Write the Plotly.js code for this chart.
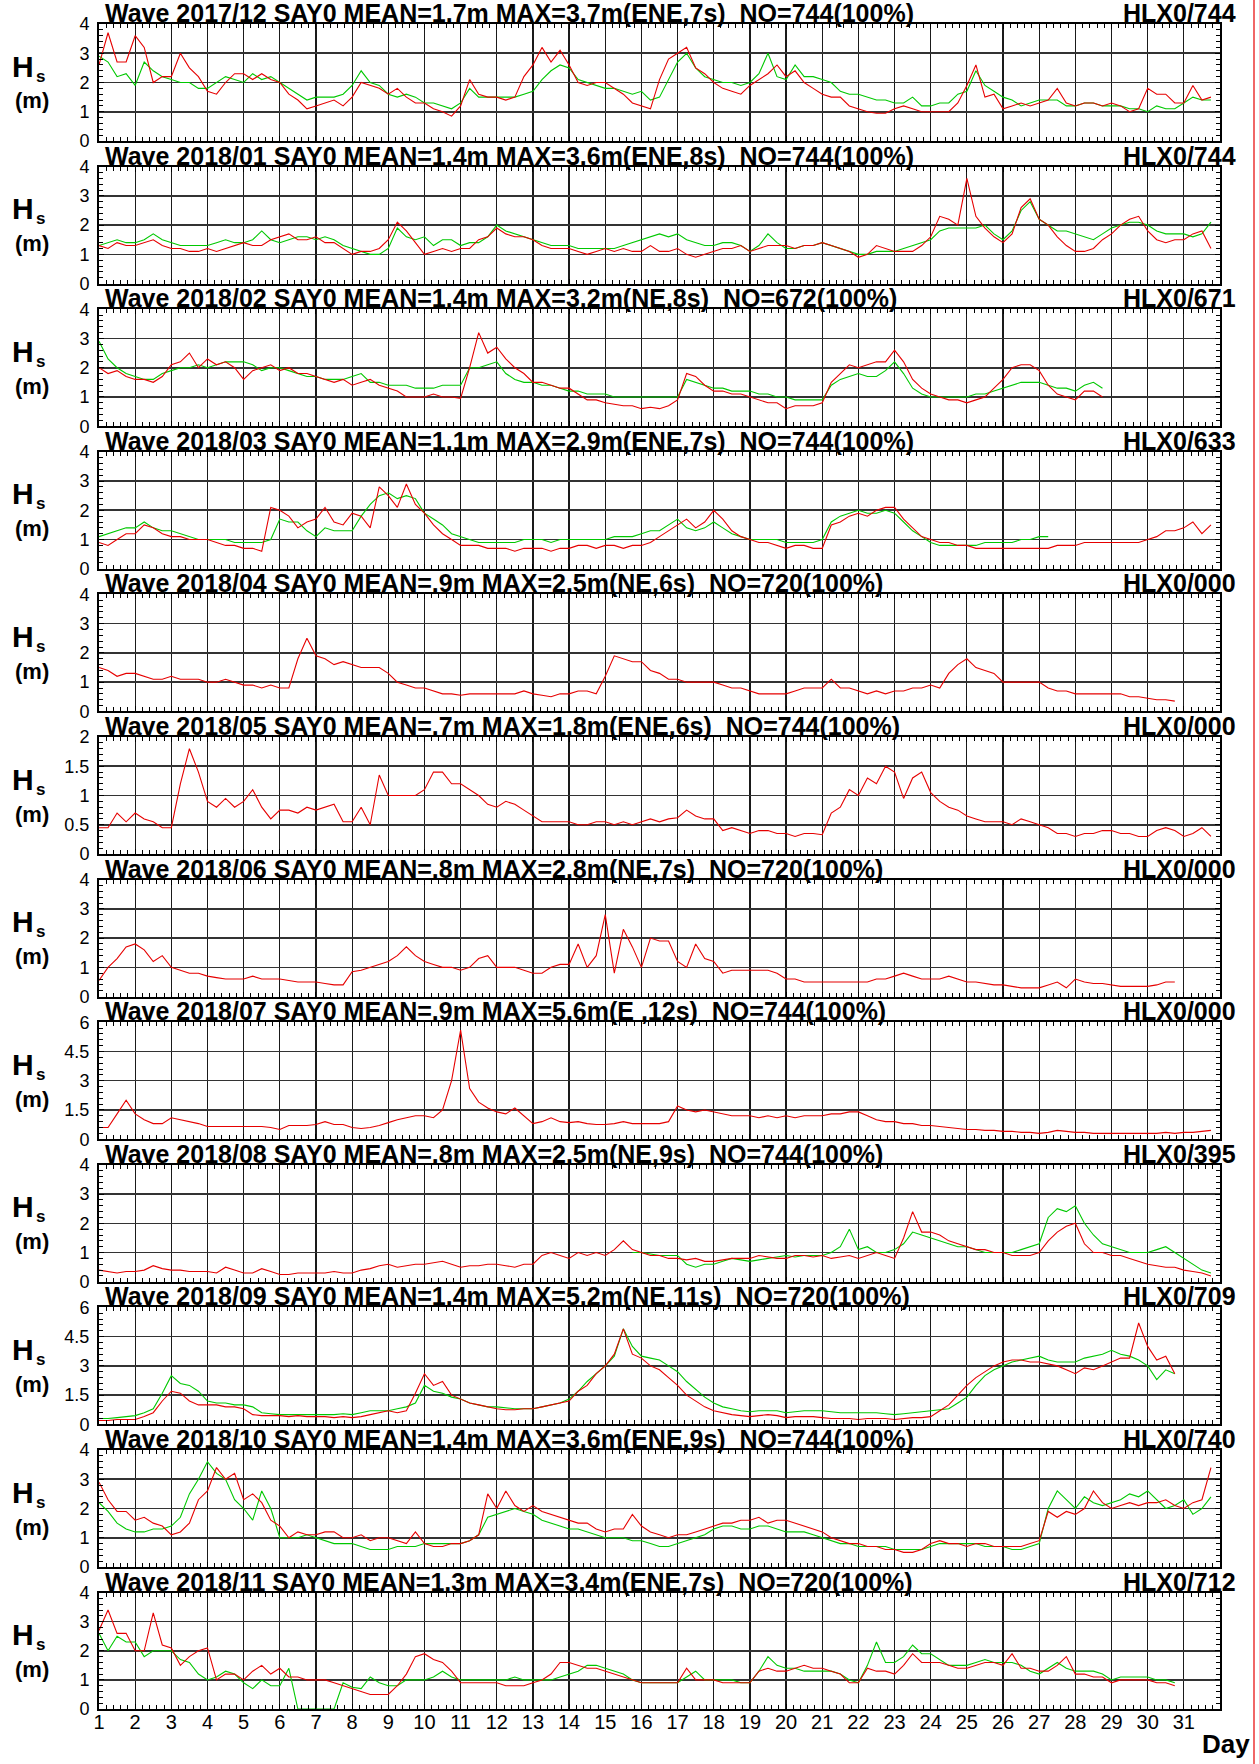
<!DOCTYPE html>
<html><head><meta charset="utf-8">
<script src="https://cdn.plot.ly/plotly-3.0.1.min.js"></script>
<style>html,body{margin:0;padding:0;background:#fff;}#chart{width:1259px;height:1764px;}</style>
</head><body><div id="chart"></div>
<script>
const days = [1,2,3,4,5,6,7,8,9,10,11,12,13,14,15,16,17,18,19,20,21,22,23,24,25,26,27,28,29,30,31];

const dec2017Red = [2.6,3.7,2.7,2.7, 3.6,3.2,2.0,2.2, 2.2,3.0,2.5,2.2, 1.7,1.6,2.0,2.3, 2.3,2.1,2.3,2.1,
 2.0,1.6,1.4,1.1, 1.2,1.3,1.4,1.2, 1.5,2.0,1.9,1.8, 1.6,1.8,1.5,1.3, 1.3,1.1,1.0,0.85,
 1.2,2.1,1.6,1.5, 1.5,1.4,1.5,2.2, 2.6,3.2,2.7,3.1, 2.6,2.0,1.9,2.0, 2.0,1.8,1.6,1.3,
 1.2,1.1,2.1,2.8, 3.0,3.2,2.5,2.3, 2.0,1.8,1.7,1.6, 1.9,2.1,2.3,2.6, 2.2,2.4,2.0,1.8,
 1.6,1.5,1.5,1.2, 1.1,1.0,0.95,0.95, 1.1,1.2,1.1,1.0, 1.0,1.0,1.0,1.3, 1.9,2.6,1.5,1.6,
 1.1,1.2,1.3,1.2, 1.3,1.4,1.8,1.3, 1.2,1.3,1.3,1.2, 1.3,1.2,1.0,1.1, 1.8,1.6,1.6,1.3,
 1.3,1.9,1.4,1.5];
const dec2017Green = [2.9,2.7,2.2,2.3, 1.9,2.7,2.4,2.2, 2.1,2.0,2.0,1.8, 1.8,2.0,2.2,2.1, 2.0,2.3,2.1,2.2,
 2.0,1.8,1.6,1.4, 1.5,1.5,1.5,1.6, 1.9,2.4,2.0,1.9, 1.6,1.5,1.6,1.5, 1.3,1.3,1.2,1.1,
 1.3,1.8,1.5,1.5, 1.5,1.5,1.5,1.6, 1.7,2.1,2.4,2.6, 2.5,2.1,2.0,1.9, 1.8,1.8,1.7,1.6,
 1.7,1.4,1.5,2.1, 2.7,3.0,2.5,2.2, 2.1,2.0,2.0,1.9, 2.0,2.3,3.0,2.2, 2.1,2.6,2.2,2.2,
 2.1,2.0,1.7,1.6, 1.6,1.5,1.4,1.4, 1.3,1.3,1.5,1.2, 1.2,1.3,1.3,1.6, 1.7,2.4,1.9,1.7,
 1.5,1.4,1.2,1.3, 1.4,1.4,1.4,1.2, 1.2,1.3,1.3,1.2, 1.2,1.2,1.1,1.1, 1.0,1.2,1.1,1.1,
 1.3,1.5,1.4,1.4];

const jan2018Red = [1.3,1.2,1.4,1.3, 1.3,1.4,1.5,1.3, 1.2,1.2,1.1,1.1, 1.2,1.1,1.2,1.3, 1.4,1.3,1.3,1.5,
 1.6,1.7,1.5,1.5, 1.6,1.4,1.4,1.2, 1.0,1.1,1.1,1.2, 1.5,2.1,1.8,1.4, 1.0,1.1,1.2,1.1,
 1.2,1.2,1.5,1.6, 1.9,1.7,1.6,1.6, 1.5,1.3,1.2,1.2, 1.2,1.1,1.0,1.1, 1.2,1.1,1.2,1.1,
 1.1,1.3,1.1,1.1, 1.2,1.0,0.9,1.0, 1.1,1.2,1.2,1.3, 1.1,1.2,1.3,1.3, 1.3,1.2,1.3,1.3,
 1.4,1.3,1.2,1.1, 0.9,1.0,1.3,1.2, 1.1,1.1,1.1,1.3, 1.6,2.3,2.2,2.0, 3.6,2.3,1.9,1.6,
 1.4,1.7,2.6,2.9, 2.2,2.0,1.6,1.3, 1.1,1.1,1.2,1.5, 1.7,2.0,2.2,2.3, 1.8,1.5,1.4,1.5,
 1.5,1.7,1.8,1.2];
const jan2018Green = [1.3,1.4,1.5,1.4, 1.4,1.5,1.7,1.5, 1.4,1.3,1.3,1.3, 1.3,1.4,1.5,1.4, 1.4,1.5,1.8,1.5,
 1.4,1.5,1.6,1.6, 1.5,1.6,1.5,1.3, 1.2,1.1,1.0,1.0, 1.2,1.9,1.6,1.5, 1.6,1.3,1.5,1.5,
 1.3,1.4,1.4,1.6, 2.0,1.8,1.7,1.6, 1.5,1.4,1.3,1.3, 1.3,1.2,1.2,1.2, 1.2,1.2,1.3,1.4,
 1.5,1.6,1.7,1.6, 1.7,1.5,1.4,1.3, 1.3,1.4,1.4,1.3, 1.1,1.3,1.7,1.4, 1.2,1.2,1.3,1.3,
 1.4,1.3,1.2,1.1, 1.0,1.0,1.1,1.1, 1.1,1.2,1.3,1.4, 1.5,1.8,1.9,1.9, 1.9,1.9,2.0,1.7,
 1.5,1.8,2.5,2.8, 2.2,2.0,1.8,1.8, 1.7,1.6,1.5,1.7, 1.9,2.0,2.1,2.1, 2.0,1.8,1.7,1.7,
 1.7,1.6,1.7,2.1];

const feb2018Red = [2.0,1.8,1.9,1.7, 1.6,1.6,1.5,1.7, 2.1,2.2,2.5,2.0, 2.3,2.1,2.2,2.0, 1.6,1.9,2.0,2.1,
 1.9,2.0,1.8,1.8, 1.7,1.6,1.5,1.6, 1.4,1.5,1.6,1.4, 1.3,1.2,1.0,1.0, 1.0,1.1,1.0,1.0,
 0.95,2.0,3.2,2.5, 2.7,2.3,2.0,1.8, 1.5,1.5,1.4,1.3, 1.3,1.1,0.9,0.9, 0.8,0.75,0.7,0.7,
 0.6,0.65,0.6,0.7, 0.9,1.8,1.7,1.4, 1.2,1.2,1.1,1.1, 1.0,0.9,0.8,0.8, 0.6,0.7,0.7,0.7,
 0.8,1.5,1.8,2.1, 2.0,2.1,2.2,2.2, 2.6,2.2,1.6,1.3, 1.1,1.0,0.9,0.9, 0.8,0.9,1.0,1.3,
 1.6,2.0,2.1,2.1, 1.9,1.4,1.1,1.0, 0.9,1.2,1.2,1.0];
const feb2018Green = [2.9,2.3,2.0,1.8, 1.7,1.6,1.6,1.8, 1.9,2.0,2.0,2.1, 2.0,2.1,2.2,2.2, 2.2,2.1,1.9,2.0,
 2.0,1.9,1.8,1.7, 1.7,1.6,1.6,1.6, 1.7,1.8,1.5,1.5, 1.4,1.4,1.4,1.3, 1.3,1.3,1.4,1.4,
 1.4,2.0,2.0,2.1, 2.2,1.8,1.6,1.5, 1.5,1.4,1.4,1.3, 1.2,1.2,1.1,1.1, 1.1,1.0,1.0,1.0,
 1.0,1.0,1.0,1.0, 1.0,1.6,1.5,1.4, 1.3,1.3,1.2,1.2, 1.2,1.1,1.1,1.0, 1.0,0.9,0.9,0.9,
 0.9,1.4,1.6,1.7, 1.8,1.7,1.7,1.9, 2.2,1.8,1.3,1.1, 1.0,1.0,1.0,1.0, 1.0,1.1,1.1,1.2,
 1.3,1.4,1.5,1.5, 1.5,1.4,1.3,1.3, 1.2,1.4,1.5,1.3];

const mar2018Red = [0.9,0.8,1.0,1.2, 1.2,1.5,1.4,1.2, 1.1,1.1,1.0,1.0, 1.0,0.9,0.8,0.8, 0.7,0.7,0.6,2.1,
 2.0,1.8,1.4,1.6, 1.7,2.1,1.6,1.5, 1.9,1.8,1.4,2.8, 2.5,2.1,2.9,2.2, 1.9,1.5,1.2,1.0,
 0.8,0.8,0.8,0.7, 0.7,0.7,0.6,0.7, 0.7,0.7,0.6,0.7, 0.7,0.8,0.8,0.7, 0.8,0.8,0.7,0.8,
 0.8,0.9,1.1,1.3, 1.5,1.7,1.4,1.6, 2.0,1.7,1.3,1.1, 1.0,0.9,0.9,0.8, 0.7,0.8,0.8,0.7,
 0.7,1.5,1.6,1.8, 1.9,1.8,2.0,2.1, 2.1,1.7,1.4,1.1, 1.0,0.9,0.9,0.8, 0.8,0.7,0.7,0.7,
 0.7,0.7,0.7,0.7, 0.7,0.7,0.8,0.8, 0.8,0.9,0.9,0.9, 0.9,0.9,0.9,0.9, 1.0,1.1,1.3,1.3,
 1.4,1.6,1.2,1.5];
const mar2018Green = [1.1,1.2,1.3,1.4, 1.4,1.6,1.4,1.3, 1.3,1.2,1.1,1.0, 1.0,1.0,1.0,0.9, 0.9,0.9,0.9,1.0,
 1.7,1.6,1.6,1.3, 1.1,1.4,1.3,1.3, 1.3,1.8,2.2,2.5, 2.6,2.4,2.5,2.4, 1.9,1.7,1.5,1.2,
 1.1,1.0,0.9,0.9, 0.9,0.9,0.9,1.0, 1.0,1.0,0.9,1.0, 1.0,1.0,1.0,1.0, 1.0,1.1,1.1,1.1,
 1.2,1.3,1.3,1.5, 1.7,1.4,1.3,1.4, 1.6,1.4,1.2,1.1, 1.0,1.0,1.0,1.0, 0.9,0.9,0.9,0.9,
 1.0,1.6,1.8,1.9, 2.0,1.9,1.9,2.0, 1.9,1.6,1.3,1.1, 0.9,0.8,0.8,0.8, 0.8,0.8,0.9,0.9,
 0.9,0.9,1.0,1.0, 1.1,1.1,null,null, null,null,null,null, null,null,null,null, null,null,null,null,
 null,null,null,null];

const apr2018Red = [1.5,1.4,1.2,1.3, 1.3,1.2,1.1,1.1, 1.2,1.1,1.1,1.1, 1.0,1.0,1.1,1.0, 0.9,0.9,0.8,0.9,
 0.8,0.8,1.8,2.5, 1.9,1.8,1.6,1.7, 1.6,1.5,1.5,1.5, 1.3,1.0,0.9,0.8, 0.8,0.7,0.6,0.6,
 0.55,0.6,0.6,0.6, 0.6,0.6,0.6,0.7, 0.6,0.55,0.5,0.6, 0.6,0.7,0.7,0.6, 1.2,1.9,1.8,1.7,
 1.7,1.4,1.3,1.1, 1.1,1.0,1.0,1.0, 1.0,0.9,0.8,0.8, 0.7,0.6,0.6,0.6, 0.6,0.7,0.8,0.8,
 0.8,1.1,0.8,0.8, 0.7,0.6,0.7,0.6, 0.7,0.7,0.8,0.8, 0.9,0.8,1.3,1.6, 1.8,1.5,1.4,1.3,
 1.0,1.0,1.0,1.0, 1.0,0.8,0.7,0.7, 0.6,0.6,0.6,0.6, 0.6,0.6,0.5,0.5, 0.45,0.4,0.4,0.35];

const may2018Red = [0.45,0.45,0.7,0.55, 0.7,0.6,0.55,0.45, 0.45,1.2,1.8,1.4, 0.9,0.8,0.95,0.8, 0.9,1.1,0.8,0.6,
 0.75,0.75,0.7,0.8, 0.75,0.8,0.85,0.55, 0.55,0.8,0.5,1.35, 1.0,1.0,1.0,1.0, 1.1,1.4,1.4,1.2,
 1.2,1.1,1.0,0.85, 0.8,0.9,0.85,0.75, 0.65,0.55,0.55,0.55, 0.55,0.5,0.5,0.55, 0.55,0.5,0.55,0.5,
 0.55,0.6,0.55,0.6, 0.62,0.75,0.65,0.6, 0.6,0.4,0.45,0.4, 0.35,0.4,0.4,0.35, 0.35,0.3,0.35,0.35,
 0.33,0.7,0.8,1.1, 1.0,1.3,1.2,1.5, 1.4,0.95,1.3,1.4, 1.05,0.9,0.8,0.75, 0.65,0.6,0.55,0.55,
 0.55,0.5,0.6,0.55, 0.5,0.45,0.35,0.35, 0.3,0.35,0.35,0.4, 0.4,0.35,0.35,0.3, 0.3,0.4,0.45,0.4,
 0.3,0.35,0.45,0.3];

const jun2018Red = [0.55,1.0,1.3,1.7, 1.8,1.6,1.2,1.4, 1.0,0.9,0.8,0.8, 0.7,0.65,0.6,0.6, 0.6,0.7,0.6,0.6,
 0.6,0.55,0.5,0.5, 0.5,0.45,0.4,0.4, 0.85,0.9,1.0,1.1, 1.2,1.4,1.7,1.4, 1.2,1.1,1.0,1.0,
 0.9,1.0,1.3,1.4, 1.0,1.0,1.0,0.9, 0.8,0.8,1.0,1.1, 1.1,1.8,1.0,1.4, 2.8,0.8,2.3,1.7,
 1.0,2.0,1.9,1.9, 1.2,1.0,1.8,1.3, 1.2,0.8,0.9,0.9, 0.9,0.9,0.9,0.8, 0.6,0.6,0.5,0.5,
 0.5,0.5,0.5,0.5, 0.5,0.5,0.6,0.6, 0.7,0.8,0.7,0.6, 0.6,0.6,0.7,0.6, 0.5,0.5,0.45,0.4,
 0.4,0.35,0.3,0.3, 0.3,0.4,0.5,0.3, 0.6,0.5,0.45,0.45, 0.4,0.35,0.35,0.35, 0.35,0.4,0.5,0.5];

const jul2018Red = [0.6,0.6,1.3,2.0, 1.3,1.0,0.8,0.8, 1.1,1.0,0.9,0.8, 0.65,0.65,0.65,0.65, 0.65,0.65,0.65,0.6,
 0.5,0.7,0.7,0.7, 0.75,0.9,0.75,0.75, 0.6,0.55,0.6,0.7, 0.85,1.0,1.1,1.2, 1.2,1.1,1.5,3.0,
 5.6,2.6,1.9,1.6, 1.4,1.3,1.6,1.2, 0.8,0.9,1.1,0.9, 0.85,0.9,0.8,0.75, 0.75,0.8,0.9,0.8,
 0.8,0.8,0.8,0.9, 1.7,1.5,1.4,1.5, 1.4,1.3,1.2,1.2, 1.2,1.1,1.2,1.1, 1.2,1.1,1.2,1.2,
 1.2,1.3,1.3,1.4, 1.4,1.2,1.0,0.9, 0.9,0.8,0.8,0.7, 0.7,0.65,0.6,0.55, 0.5,0.5,0.45,0.45,
 0.4,0.4,0.35,0.35, 0.3,0.35,0.45,0.4, 0.35,0.35,0.3,0.3, 0.3,0.3,0.3,0.3, 0.3,0.3,0.35,0.3,
 0.35,0.35,0.4,0.45];

const aug2018Red = [0.4,0.35,0.3,0.35, 0.35,0.4,0.55,0.45, 0.4,0.4,0.35,0.35, 0.35,0.3,0.5,0.4, 0.3,0.3,0.45,0.35,
 0.25,0.25,0.3,0.3, 0.3,0.3,0.35,0.3, 0.3,0.4,0.45,0.55, 0.6,0.5,0.55,0.6, 0.6,0.65,0.7,0.6,
 0.5,0.55,0.55,0.6, 0.6,0.55,0.5,0.6, 0.6,0.9,1.0,0.9, 0.8,1.0,0.9,1.0, 0.9,1.1,1.4,1.1,
 1.0,0.9,0.9,0.8, 0.8,0.75,0.8,0.7, 0.7,0.75,0.8,0.8, 0.8,0.9,0.85,0.8, 0.8,0.9,0.9,0.85,
 0.9,0.8,0.85,0.9, 0.8,0.9,1.0,0.9, 0.8,1.5,2.4,1.7, 1.7,1.6,1.4,1.3, 1.2,1.1,1.1,1.0,
 1.0,0.9,0.9,0.9, 1.0,1.4,1.7,1.9, 2.0,1.3,1.0,1.0, 0.9,0.9,0.8,0.7, 0.6,0.55,0.5,0.5,
 0.4,0.35,0.3,0.2];
const aug2018Green = [null,null,null,null, null,null,null,null, null,null,null,null, null,null,null,null, null,null,null,null,
 null,null,null,null, null,null,null,null, null,null,null,null, null,null,null,null, null,null,null,null,
 null,null,null,null, null,null,null,null, null,null,null,null, null,null,null,null, null,null,null,1.0,
 1.0,0.95,0.9,0.9, 0.9,0.6,0.5,0.6, 0.6,0.7,0.8,0.75, 0.7,0.75,0.8,0.85, 0.9,0.85,0.9,0.9,
 0.9,1.0,1.2,1.8, 1.1,1.2,1.0,1.0, 1.1,1.3,1.7,1.6, 1.5,1.4,1.3,1.2, 1.2,1.1,1.0,1.0,
 1.0,1.0,1.1,1.2, 1.3,2.2,2.5,2.4, 2.6,2.0,1.6,1.3, 1.2,1.1,1.0,1.0, 1.0,1.1,1.2,1.0,
 0.8,0.6,0.4,0.3];

const sep2018Red = [0.2,0.2,0.25,0.25, 0.25,0.4,0.6,1.2, 1.7,1.6,1.2,1.0, 1.0,1.0,0.9,0.9, 0.8,0.5,0.45,0.45,
 0.45,0.4,0.45,0.4, 0.4,0.4,0.35,0.4, 0.35,0.4,0.5,0.6, 0.7,0.6,0.7,1.6, 2.6,2.0,2.2,1.5,
 1.3,1.1,1.0,0.9, 0.8,0.75,0.75,0.8, 0.8,0.9,1.0,1.1, 1.2,1.7,2.0,2.6, 3.0,3.6,4.9,3.6,
 3.4,3.0,2.8,2.4, 2.0,1.5,1.2,0.9, 0.7,0.6,0.5,0.45, 0.4,0.45,0.5,0.45, 0.35,0.4,0.4,0.4,
 0.35,0.3,0.3,0.3, 0.25,0.3,0.3,0.3, 0.25,0.3,0.35,0.35, 0.4,0.7,1.0,1.5, 2.0,2.4,2.7,3.0,
 3.2,3.3,3.3,3.2, 3.2,3.1,3.0,2.8, 2.6,2.9,2.8,3.0, 3.2,3.4,3.4,5.2, 4.0,3.3,3.5,2.6];
const sep2018Green = [0.3,0.3,0.35,0.4, 0.45,0.6,0.8,1.6, 2.5,2.1,2.0,1.7, 1.2,1.1,1.1,1.0, 1.0,0.9,0.6,0.55,
 0.5,0.5,0.5,0.5, 0.5,0.5,0.5,0.55, 0.5,0.6,0.7,0.7, 0.7,0.8,0.9,1.1, 2.0,1.7,1.6,1.4,
 1.3,1.1,1.0,0.9, 0.9,0.85,0.8,0.8, 0.8,0.9,1.0,1.1, 1.3,1.7,2.2,2.6, 3.0,3.5,4.9,4.0,
 3.5,3.4,3.3,3.0, 2.7,2.2,1.8,1.4, 1.1,0.9,0.8,0.7, 0.65,0.7,0.7,0.7, 0.6,0.65,0.7,0.7,
 0.7,0.65,0.6,0.6, 0.6,0.6,0.6,0.55, 0.5,0.55,0.6,0.65, 0.7,0.75,0.8,1.1, 1.4,2.0,2.5,2.8,
 3.0,3.2,3.3,3.4, 3.5,3.3,3.2,3.2, 3.2,3.4,3.5,3.6, 3.8,3.6,3.5,3.3, 3.0,2.3,2.8,2.6];

const oct2018Red = [2.9,2.3,1.9,1.9, 1.6,1.7,1.5,1.4, 1.1,1.2,1.5,2.3, 2.6,3.4,3.0,3.2, 2.3,2.5,2.2,1.6,
 1.4,1.0,1.2,1.1, 1.1,1.2,1.2,1.0, 1.0,1.1,0.9,1.0, 1.0,0.9,0.8,1.2, 0.8,0.7,0.7,0.8,
 0.8,0.9,1.1,2.5, 2.0,2.6,2.1,1.9, 2.1,1.9,1.8,1.7, 1.6,1.5,1.5,1.3, 1.2,1.3,1.3,1.8,
 1.4,1.2,1.1,1.0, 1.1,1.1,1.2,1.3, 1.4,1.5,1.5,1.6, 1.6,1.7,1.5,1.6, 1.6,1.5,1.4,1.3,
 1.2,1.0,0.9,0.8, 0.8,0.7,0.7,0.6, 0.6,0.5,0.5,0.6, 0.8,0.9,0.8,0.8, 0.7,0.8,0.8,0.7,
 0.7,0.7,0.7,0.8, 0.9,1.9,1.7,1.9, 1.8,2.0,2.6,2.2, 2.0,2.1,2.2,2.1, 2.2,2.2,2.3,2.1,
 2.0,2.2,2.3,3.4];
const oct2018Green = [2.2,1.9,1.5,1.3, 1.2,1.2,1.3,1.3, 1.4,1.7,2.5,3.0, 3.6,3.2,3.0,2.3, 2.0,1.6,2.6,2.0,
 1.0,1.0,1.0,1.1, 1.0,0.9,0.8,0.8, 0.8,0.7,0.6,0.6, 0.6,0.7,0.7,0.7, 0.8,0.8,0.8,0.8,
 0.8,0.9,1.1,1.7, 1.8,1.9,2.0,1.9, 1.8,1.6,1.5,1.4, 1.3,1.3,1.2,1.1, 1.0,1.0,1.0,0.9,
 0.9,0.8,0.7,0.7, 0.8,0.9,1.0,1.1, 1.3,1.4,1.4,1.3, 1.3,1.4,1.4,1.3, 1.2,1.2,1.2,1.1,
 1.0,0.9,0.8,0.8, 0.7,0.7,0.7,0.7, 0.6,0.6,0.6,0.6, 0.7,0.8,0.8,0.8, 0.8,0.8,0.7,0.7,
 0.7,0.6,0.6,0.7, 0.8,2.0,2.6,2.3, 2.0,2.4,2.2,2.1, 2.2,2.3,2.5,2.4, 2.6,2.3,2.0,2.1,
 2.3,1.8,2.0,2.4];

const nov2018Red = [2.7,3.4,2.6,2.6, 2.0,2.0,3.3,2.2, 2.1,1.5,1.8,2.0, 2.1,1.0,1.2,1.2, 1.0,1.3,1.5,1.2,
 1.4,1.1,1.1,1.0, 1.0,1.0,0.9,0.8, 0.7,0.6,0.5,0.5, 0.5,0.8,1.2,1.8, 1.9,1.7,1.6,1.3,
 0.9,0.9,0.9,0.9, 0.9,0.8,0.8,0.8, 0.9,1.0,1.2,1.6, 1.6,1.5,1.4,1.4, 1.3,1.2,1.1,1.0,
 0.9,0.9,0.9,0.9, 0.9,1.4,1.0,1.0, 1.0,0.9,0.9,0.9, 0.9,1.3,1.4,1.3, 1.3,1.4,1.5,1.4,
 1.4,1.3,1.2,0.9, 0.9,1.4,1.3,1.3, 1.2,1.5,1.9,1.6, 1.6,1.6,1.5,1.4, 1.4,1.5,1.6,1.6,
 1.5,1.9,1.4,1.4, 1.3,1.3,1.5,1.8, 1.2,1.2,1.1,1.1, 0.9,1.0,1.0,1.0, 1.0,0.9,0.9,0.8];
const nov2018Green = [2.6,2.0,2.5,2.3, 2.3,1.8,2.0,2.0, 2.0,1.7,1.6,1.2, 1.0,1.1,1.3,1.2, 0.9,0.7,1.0,0.8,
 0.8,1.4,0,0, 0,0,0,0.9, 0.75,0.7,1.1,0.9, 0.8,0.8,1.0,1.0, 1.0,1.1,1.3,1.1,
 1.0,1.0,1.0,1.0, 1.0,1.0,1.1,1.0, 1.0,1.0,1.0,1.1, 1.2,1.3,1.5,1.5, 1.4,1.3,1.2,1.0,
 0.9,0.9,0.9,0.9, 0.9,1.1,1.3,1.0, 1.0,1.0,1.0,0.9, 0.9,1.3,1.8,1.5, 1.4,1.4,1.3,1.3,
 1.3,1.3,1.2,1.0, 0.9,1.5,2.3,1.6, 1.6,1.8,2.2,1.9, 1.9,1.7,1.5,1.5, 1.5,1.6,1.7,1.6,
 1.6,1.6,1.5,1.3, 1.2,1.4,1.6,1.4, 1.3,1.3,1.3,1.2, 1.0,1.1,1.1,1.1, 1.1,1.0,1.0,0.9];

const panelTitles = [
 'Wave 2017/12 SAY0 MEAN=1.7m MAX=3.7m(ENE,7s)  NO=744(100%)',
 'Wave 2018/01 SAY0 MEAN=1.4m MAX=3.6m(ENE,8s)  NO=744(100%)',
 'Wave 2018/02 SAY0 MEAN=1.4m MAX=3.2m(NE,8s)  NO=672(100%)',
 'Wave 2018/03 SAY0 MEAN=1.1m MAX=2.9m(ENE,7s)  NO=744(100%)',
 'Wave 2018/04 SAY0 MEAN=.9m MAX=2.5m(NE,6s)  NO=720(100%)',
 'Wave 2018/05 SAY0 MEAN=.7m MAX=1.8m(ENE,6s)  NO=744(100%)',
 'Wave 2018/06 SAY0 MEAN=.8m MAX=2.8m(NE,7s)  NO=720(100%)',
 'Wave 2018/07 SAY0 MEAN=.9m MAX=5.6m(E ,12s)  NO=744(100%)',
 'Wave 2018/08 SAY0 MEAN=.8m MAX=2.5m(NE,9s)  NO=744(100%)',
 'Wave 2018/09 SAY0 MEAN=1.4m MAX=5.2m(NE,11s)  NO=720(100%)',
 'Wave 2018/10 SAY0 MEAN=1.4m MAX=3.6m(ENE,9s)  NO=744(100%)',
 'Wave 2018/11 SAY0 MEAN=1.3m MAX=3.4m(ENE,7s)  NO=720(100%)'];
const panelCodes = ['HLX0/744','HLX0/744','HLX0/671','HLX0/633','HLX0/000','HLX0/000','HLX0/000','HLX0/000','HLX0/395','HLX0/709','HLX0/740','HLX0/712'];
const redSeries = [dec2017Red,jan2018Red,feb2018Red,mar2018Red,apr2018Red,may2018Red,jun2018Red,jul2018Red,aug2018Red,sep2018Red,oct2018Red,nov2018Red];
const greenSeries = [dec2017Green,jan2018Green,feb2018Green,mar2018Green,null,null,null,null,aug2018Green,sep2018Green,oct2018Green,nov2018Green];
const yTickSets = [[0,1,2,3,4],[0,1,2,3,4],[0,1,2,3,4],[0,1,2,3,4],[0,1,2,3,4],[0,0.5,1,1.5,2],[0,1,2,3,4],[0,1.5,3,4.5,6],[0,1,2,3,4],[0,1.5,3,4.5,6],[0,1,2,3,4],[0,1,2,3,4]];

// ---- layout geometry (pixels) ----
const W = 1259, H = 1764, ML = 99, MR = 39, MT = 24, MB = 55;
const plotW = W - ML - MR, plotH = H - MT - MB;
const step = 142.6, panelH = 117;
const FONT = 'Liberation Sans, Arial, sans-serif';
const px2y = py => 1 - (py - MT) / plotH;   // page pixel y -> paper y
const px2x = px => (px - ML) / plotW;
const boldFont = size => ({family: FONT, size: size, color: '#000', weight: 'bold'});

const traces = [], annotations = [], layout = {};
for (let i = 0; i < 12; i++) {
  const n = i + 1, sx = n === 1 ? '' : String(n);
  const topPx = MT + i * step, botPx = topPx + panelH;
  const ticks = yTickSets[i];
  const ymax = ticks[ticks.length - 1];
  if (greenSeries[i]) {
    traces.push({x: greenSeries[i].map((v, k) => 1 + k / 4), y: greenSeries[i], xaxis: 'x' + sx, yaxis: 'y' + sx,
      type: 'scatter', mode: 'lines', line: {color: '#00c800', width: 1.1}, connectgaps: false, hoverinfo: 'skip'});
  }
  traces.push({x: redSeries[i].map((v, k) => 1 + k / 4), y: redSeries[i], xaxis: 'x' + sx, yaxis: 'y' + sx,
    type: 'scatter', mode: 'lines', line: {color: '#e60000', width: 1.1}, hoverinfo: 'skip'});
  const axCommon = {showline: true, linecolor: '#000', linewidth: 2, mirror: 'allticks', zeroline: false,
    ticks: 'inside', ticklen: 5, tickcolor: '#000', tickwidth: 1, fixedrange: true};
  layout['xaxis' + sx] = Object.assign({}, axCommon, {
    domain: [0, 1], anchor: 'y' + sx, range: [1, 32], tickmode: 'array', tickvals: days,
    showticklabels: n === 12, tickfont: {family: FONT, size: 20, color: '#000'}, ticklabelstandoff: -6,
    showgrid: true, gridcolor: '#1a1a1a', gridwidth: 1.2,
    minor: {tickmode: 'linear', tick0: 1, dtick: 0.2, ticks: 'inside', ticklen: 4, tickcolor: '#000', showgrid: false}
  });
  layout['yaxis' + sx] = Object.assign({}, axCommon, {
    domain: [px2y(botPx), px2y(topPx)], anchor: 'x' + sx, range: [0, ymax], tickmode: 'array', tickvals: ticks,
    ticktext: ticks.map(String), tickfont: {family: FONT, size: 18, color: '#000'}, ticklabelstandoff: 4,
    showgrid: true, gridcolor: '#333', gridwidth: 1.6,
    minor: {tickmode: 'linear', tick0: 0, dtick: (ticks[1] - ticks[0]) / 5, ticks: 'inside', ticklen: 4, tickcolor: '#000', showgrid: false}
  });
  annotations.push({text: panelTitles[i].replace(/ /g, '\u00a0'), xref: 'paper', yref: 'paper',
    x: px2x(103), y: px2y(topPx - 11), xanchor: 'left', yanchor: 'middle', showarrow: false, font: boldFont(25)});
  annotations.push({text: panelCodes[i], xref: 'paper', yref: 'paper',
    x: px2x(1238), y: px2y(topPx - 11), xanchor: 'right', yanchor: 'middle', showarrow: false, font: boldFont(25)});
  annotations.push({text: 'H', xref: 'paper', yref: 'paper', x: px2x(10), y: px2y(topPx + 42),
    xanchor: 'left', yanchor: 'middle', showarrow: false, font: boldFont(30)});
  annotations.push({text: 's', xref: 'paper', yref: 'paper', x: px2x(34), y: px2y(topPx + 52),
    xanchor: 'left', yanchor: 'middle', showarrow: false, font: boldFont(17)});
  annotations.push({text: '(m)', xref: 'paper', yref: 'paper', x: px2x(13), y: px2y(topPx + 77),
    xanchor: 'left', yanchor: 'middle', showarrow: false, font: boldFont(22)});
}
annotations.push({text: 'Day', xref: 'paper', yref: 'paper', x: px2x(1226), y: px2y(1744),
  xanchor: 'center', yanchor: 'middle', showarrow: false, font: boldFont(26)});

Object.assign(layout, {
  width: W, height: H, margin: {l: ML, r: MR, t: MT, b: MB, pad: 0},
  paper_bgcolor: '#fff', plot_bgcolor: '#fff', showlegend: false, annotations: annotations,
  font: {family: FONT, color: '#000'},
  shapes: [{type: 'line', xref: 'paper', yref: 'paper', x0: px2x(1254), x1: px2x(1254), y0: px2y(0), y1: px2y(H),
    line: {color: '#e60000', width: 1.2}}]
});
Plotly.newPlot('chart', traces, layout, {staticPlot: true, displayModeBar: false});
</script></body></html>
